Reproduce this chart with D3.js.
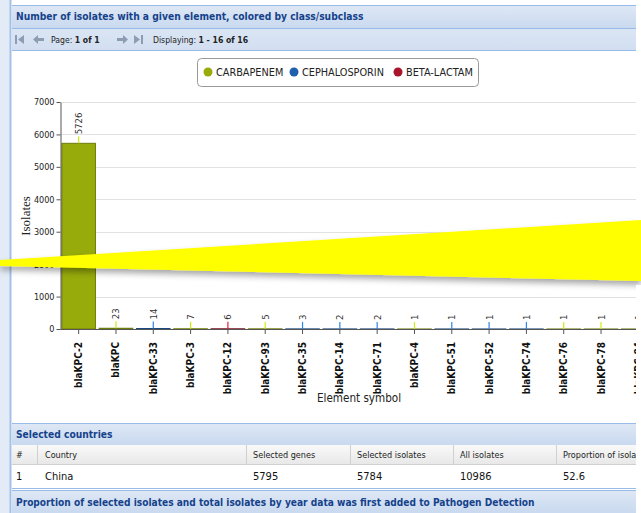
<!DOCTYPE html>
<html><head><meta charset="utf-8">
<script src="https://cdn.jsdelivr.net/npm/d3@7"></script>
<style>
html,body{margin:0;padding:0;background:#fff;overflow:hidden}
svg{display:block}
text{font-family:'DejaVu Sans Condensed','DejaVu Sans',sans-serif;font-stretch:condensed}
</style></head><body>
<svg id="c" width="641" height="513"></svg>
<script>
const elements = ["blaKPC-2","blaKPC","blaKPC-33","blaKPC-3","blaKPC-12","blaKPC-93","blaKPC-35","blaKPC-14","blaKPC-71","blaKPC-4","blaKPC-51","blaKPC-52","blaKPC-74","blaKPC-76","blaKPC-78","blaKPC-84"];
const isolates = [5726,23,14,7,6,5,3,2,2,1,1,1,1,1,1,1];
const elementClass = ["CARBAPENEM","CARBAPENEM","CEPHALOSPORIN","CARBAPENEM","BETA-LACTAM","CARBAPENEM","CEPHALOSPORIN","CEPHALOSPORIN","CEPHALOSPORIN","CARBAPENEM","CEPHALOSPORIN","CEPHALOSPORIN","CEPHALOSPORIN","CARBAPENEM","CARBAPENEM","CARBAPENEM"];
const legendClasses = ["CARBAPENEM","CEPHALOSPORIN","BETA-LACTAM"];
const classColors = ["#97ab0b","#1f60ae","#a8142b"];
const yTicks = [0,1000,2000,3000,4000,5000,6000,7000];
const panelTitle = "Number of isolates with a given element, colored by class/subclass";
const tableTitle = "Selected countries";
const tableColumns = ["#","Country","Selected genes","Selected isolates","All isolates","Proportion of isolates"];
const tableRow = ["1","China","5795","5784","10986","52.6"];
const nextTitle = "Proportion of selected isolates and total isolates by year data was first added to Pathogen Detection";

const svg = d3.select("#c");
const defs = svg.append("defs");
const hg = defs.append("linearGradient").attr("id","hdr").attr("x1",0).attr("y1",0).attr("x2",0).attr("y2",1);
hg.append("stop").attr("offset","0").attr("stop-color","#dfe8f5");
hg.append("stop").attr("offset","1").attr("stop-color","#c9d9ef");
const tg = defs.append("linearGradient").attr("id","tb").attr("x1",0).attr("y1",0).attr("x2",0).attr("y2",1);
tg.append("stop").attr("offset","0").attr("stop-color","#dbe6f4");
tg.append("stop").attr("offset","1").attr("stop-color","#d2dff1");
const gg = defs.append("linearGradient").attr("id","gh").attr("x1",0).attr("y1",0).attr("x2",0).attr("y2",1);
gg.append("stop").attr("offset","0").attr("stop-color","#f9f9f9");
gg.append("stop").attr("offset","1").attr("stop-color","#e8e8e8");
defs.append("clipPath").attr("id","pclip").append("rect").attr("x",12).attr("y",50).attr("width",624).attr("height",370);
const f = defs.append("filter").attr("id","sh").attr("x","-10%").attr("y","-50%").attr("width","120%").attr("height","200%");
f.append("feDropShadow").attr("dx",0).attr("dy",4).attr("stdDeviation",3).attr("flood-color","#000").attr("flood-opacity",0.35);

// outer left strip
svg.append("rect").attr("x",0).attr("y",0).attr("width",10).attr("height",513).attr("fill","#e3ebf6");
svg.append("line").attr("x1",10.5).attr("x2",10.5).attr("y1",0).attr("y2",513).attr("stroke","#a3c1e8").attr("stroke-width",2);

// panel header
svg.append("rect").attr("x",12).attr("y",5).attr("width",624).attr("height",23).attr("fill","url(#hdr)");
svg.append("line").attr("x1",12).attr("x2",636).attr("y1",5.5).attr("y2",5.5).attr("stroke","#99bbe8");
svg.append("text").attr("x",16).attr("y",20).attr("font-size",10.2).attr("font-weight","bold").attr("fill","#15428b").text(panelTitle);
// toolbar
svg.append("rect").attr("x",12).attr("y",28).attr("width",624).attr("height",22).attr("fill","url(#tb)");
svg.append("line").attr("x1",12).attr("x2",636).attr("y1",28.5).attr("y2",28.5).attr("stroke","#99bbe8");
svg.append("line").attr("x1",12).attr("x2",636).attr("y1",50.5).attr("y2",50.5).attr("stroke","#99bbe8");
const ic = "#8c9db3";
svg.append("rect").attr("x",15).attr("y",35).attr("width",2).attr("height",9).attr("fill",ic);
svg.append("path").attr("d","M24,35 L18,39.5 L24,44 Z").attr("fill",ic);
svg.append("path").attr("d","M33,39.5 L38,35 L38,38 L44,38 L44,41 L38,41 L38,44 Z").attr("fill",ic);
const t1 = svg.append("text").attr("x",51).attr("y",43).attr("font-size",8.6).attr("fill","#222");
t1.append("tspan").text("Page: ");
t1.append("tspan").attr("font-weight","bold").text("1 of 1");
svg.append("path").attr("d","M128,39.5 L123,35 L123,38 L117,38 L117,41 L123,41 L123,44 Z").attr("fill",ic);
svg.append("path").attr("d","M134,35 L140,39.5 L134,44 Z").attr("fill",ic);
svg.append("rect").attr("x",141).attr("y",35).attr("width",2).attr("height",9).attr("fill",ic);
const t2 = svg.append("text").attr("x",153).attr("y",43).attr("font-size",8.6).attr("fill","#222");
t2.append("tspan").text("Displaying: ");
t2.append("tspan").attr("font-weight","bold").text("1 - 16 of 16");

// legend
const lg = svg.append("g");
lg.append("rect").attr("x",197.5).attr("y",58.5).attr("width",281).attr("height",28).attr("rx",4).attr("fill","#fff").attr("stroke","#999");
const legX = [208,294,398];
legendClasses.forEach((c,i)=>{
  lg.append("circle").attr("cx",legX[i]).attr("cy",72).attr("r",4.5).attr("fill",classColors[i]);
  lg.append("text").attr("x",legX[i]+8).attr("y",76).attr("font-size",10.8).attr("fill","#222").text(c);
});

// chart
const color = d3.scaleOrdinal().domain(legendClasses).range(classColors);
const x = d3.scaleBand().domain(elements).range([60,657]).paddingInner(0.1).paddingOuter(0.05);
const y = d3.scaleLinear().domain([0,7000]).range([329,102]);
const ch = svg.append("g").attr("clip-path","url(#pclip)");

ch.append("g").selectAll("line").data(yTicks.slice(1)).join("line")
  .attr("x1",61).attr("x2",636).attr("y1",d=>Math.round(y(d))+0.5).attr("y2",d=>Math.round(y(d))+0.5)
  .attr("stroke","#e2e2e2");

const data = elements.map((e,i)=>({e, v:isolates[i], c:elementClass[i]}));
ch.append("g").selectAll("rect").data(data).join("rect")
  .attr("x",d=>x(d.e)).attr("width",x.bandwidth())
  .attr("y",d=>y(d.v)).attr("height",d=>Math.max(0.5,y(0)-y(d.v)))
  .attr("fill",d=>color(d.c)).attr("stroke",d=>d3.color(color(d.c)).darker(0.9)).attr("stroke-width",1);

// leaders & value labels
ch.append("g").selectAll("line").data(data).join("line")
  .attr("x1",d=>x(d.e)+x.bandwidth()/2).attr("x2",d=>x(d.e)+x.bandwidth()/2)
  .attr("y1",d=>y(d.v)).attr("y2",d=>y(d.v)-7)
  .attr("stroke",d=>d3.color(color(d.c)).brighter(0.9)).attr("stroke-width",1.2);
ch.append("g").selectAll("text").data(data).join("text")
  .attr("transform",d=>`translate(${x(d.e)+x.bandwidth()/2+3.5},${y(d.v)-9}) rotate(-90)`)
  .attr("font-size",9.5).attr("fill","#333").text(d=>d.v);

// x axis
const xa = ch.append("g").attr("transform","translate(0,329)")
  .call(d3.axisBottom(x).tickSize(5).tickSizeOuter(0));
xa.select(".domain").attr("stroke","#555").attr("d","M60.5,0.5H636");
xa.selectAll(".tick line").attr("stroke","#555");
xa.selectAll(".tick text").attr("font-size",10).attr("font-weight","bold").attr("fill","#111")
  .attr("font-family",null).attr("text-anchor","end").attr("transform","rotate(-90)")
  .attr("x",-13).attr("y",0).attr("dy","0.35em");

// y axis
const ya = svg.append("g").attr("transform","translate(60.5,0)")
  .call(d3.axisLeft(y).tickValues(yTicks).tickFormat(d3.format("d")).tickSize(4).tickSizeOuter(0));
ya.select(".domain").attr("stroke","#555");
ya.selectAll(".tick line").attr("stroke","#555");
ya.selectAll(".tick text").attr("font-size",9).attr("fill","#222").attr("font-family",null).attr("x",-6);

svg.append("text").attr("transform","translate(30,216) rotate(-90)").attr("text-anchor","middle")
  .attr("font-size",13).attr("fill","#222").style("font-family","'Liberation Serif',serif").style("font-stretch","normal").text("Isolates");
svg.append("text").attr("x",359).attr("y",402).attr("text-anchor","middle").attr("font-size",11.6).attr("fill","#222").text("Element symbol");

// yellow wedge overlay
svg.append("path").attr("d","M0,260 L641,220 L641,281 L0,266 Z").attr("fill","#ffff00").attr("filter","url(#sh)");

// selected countries panel
svg.append("rect").attr("x",12).attr("y",423).attr("width",624).attr("height",22).attr("fill","url(#hdr)");
svg.append("line").attr("x1",12).attr("x2",636).attr("y1",423.5).attr("y2",423.5).attr("stroke","#99bbe8");
svg.append("text").attr("x",16).attr("y",438).attr("font-size",10.2).attr("font-weight","bold").attr("fill","#15428b").text(tableTitle);
svg.append("rect").attr("x",12).attr("y",445).attr("width",624).attr("height",19).attr("fill","url(#gh)");
svg.append("line").attr("x1",12).attr("x2",636).attr("y1",464.5).attr("y2",464.5).attr("stroke","#d0d0d0");
const colX = [12,37,246,350,453,556];
const colOff = [4,8,7,7,7,7];
colX.slice(1).forEach(cx=>svg.append("line").attr("x1",cx+0.5).attr("x2",cx+0.5).attr("y1",445).attr("y2",464).attr("stroke","#d0d0d0"));
const tc = d3.scaleOrdinal().domain(tableColumns).range(colX);
svg.append("g").selectAll("text").data(tableColumns).join("text")
  .attr("x",(d,i)=>tc(d)+colOff[i]).attr("y",458).attr("font-size",9).attr("fill","#222").text(d=>d);
svg.append("g").selectAll("text").data(tableRow).join("text")
  .attr("x",(d,i)=>colX[i]+colOff[i]).attr("y",480).attr("font-size",11).attr("fill","#111").text(d=>d);
svg.append("line").attr("x1",12).attr("x2",636).attr("y1",488.5).attr("y2",488.5).attr("stroke","#99bbe8");
svg.append("rect").attr("x",12).attr("y",490).attr("width",624).attr("height",23).attr("fill","url(#hdr)");
svg.append("line").attr("x1",12).attr("x2",636).attr("y1",490.5).attr("y2",490.5).attr("stroke","#99bbe8");
svg.append("text").attr("x",16).attr("y",506).attr("font-size",10.1).attr("font-weight","bold").attr("fill","#15428b").text(nextTitle);
// right edge mask
svg.append("rect").attr("x",636).attr("y",0).attr("width",5).attr("height",220).attr("fill","#fff");
svg.append("rect").attr("x",636).attr("y",285).attr("width",5).attr("height",228).attr("fill","#fff");
</script></body></html>
